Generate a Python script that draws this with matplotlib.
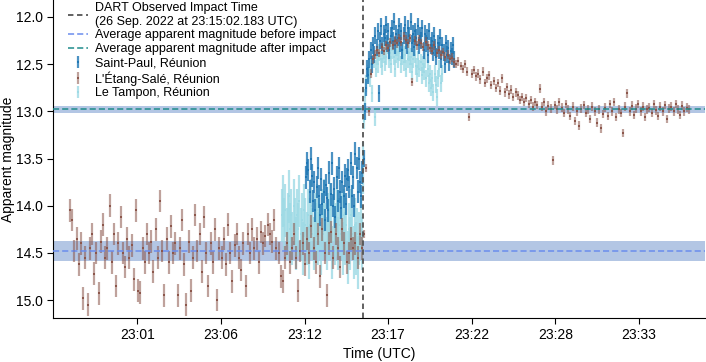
"""Apparent magnitude of Didymos around the DART impact, seen from Réunion."""

import matplotlib
matplotlib.use("Agg")
import matplotlib.pyplot as plt
from matplotlib.colors import to_rgba
import numpy as np

plt.rcParams['font.family'] = ['Liberation Sans', 'DejaVu Sans']

# Times are in minutes after 23:00 UTC (26 Sep. 2022)
IMPACT_MIN = 15.04

# L'Étang-Salé: regular cadence, first exposure at -3.65 min
etang_start = -3.65
etang_step = 0.14
etang_mag = [
    14.05, 14.15, 14.48, 14.35, 14.62, 14.4, 14.98, 14.55, 15.05, 14.45,
    14.3, 14.72, 14.5, 14.93, 14.38, 14.2, 14.55, 14.45, 14.0, 14.6,
    14.3, 14.85, 14.4, 14.12, 14.5, 14.65, 14.35, 14.55, 14.42, 14.78,
    14.05, 14.9, 14.92, 14.45, 14.6, 14.3, 14.5, 14.38, 14.7, 14.25,
    14.55, 13.95, 14.48, 14.95, 14.35, 14.6, 14.22, 14.5, 14.4, 14.95,
    14.45, 14.15, 14.62, 15.05, 14.38, 14.9, 14.55, 14.1, 14.48, 14.3,
    14.7, 14.12, 14.5, 14.85, 14.4, 14.6, 14.25, 15.0, 14.45, 14.55,
    14.35, 14.62, 14.2, 14.5, 14.8, 14.42, 14.3, 14.55, 14.68, 14.4,
    14.85, 14.3, 14.5, 14.25, 14.45, 14.35, 14.6, 14.28, 14.4, 14.32,
    14.2, 14.3, 14.38, 14.15, 14.45, 14.5, 14.75, 14.8, 14.55, 14.4,
    14.6, 14.45, 14.3, 14.55, 14.9, 14.48, 14.4, 14.62, 14.35, 14.5,
    14.22, 14.45, 14.6, 14.3, 14.75, 14.25, 14.5, 14.95, 14.4, 14.28,
    14.55, 14.3, 14.45, 14.65, 14.25, 14.4, 14.6, 14.5, 14.35, 14.45,
    14.4, 14.55, 14.3, 14.45,
    # after impact
    14.3, 13.6, 13.0, 12.6, 12.45, 12.4, 12.35, 12.38, 12.32, 12.36,
    12.3, 12.33, 12.27, 12.3, 12.25, 12.28, 12.22, 12.26, 12.2, 12.24,
    12.28, 12.22, 12.69, 12.25, 12.3, 12.24, 12.28, 12.32, 12.26, 12.3,
    12.33, 12.36, 12.3, 12.38, 12.35, 12.4, 12.37, 12.42, 12.4, 12.45,
    12.43, 12.48, 12.5, 12.47, 12.52, 12.55, 12.5, 12.58, 13.06, 12.6,
    12.56, 12.63, 12.6, 12.66, 12.58, 12.7, 12.65, 12.62, 12.72, 12.68,
    12.75, 12.7, 12.78, 12.65, 12.8, 12.74, 12.82, 12.77, 12.85, 12.8,
    12.83, 12.88, 12.85, 12.9, 12.86, 12.92, 12.88, 12.95, 12.9, 12.93,
    12.76, 12.95, 12.9, 13.0, 12.94, 12.97, 13.52, 12.93, 12.98, 12.9,
    12.96, 13.02, 12.92, 12.98, 13.05, 12.95, 13.1, 13.0, 13.15, 12.97,
    12.93, 13.02, 12.98, 13.08, 12.95, 13.0, 13.12, 12.98, 13.18, 13.03,
    12.96, 13.05, 12.92, 13.0, 12.9, 13.06, 12.98, 13.02, 13.23, 12.95,
    12.81, 13.0, 12.94, 13.04, 12.97, 12.92, 13.0, 12.95, 13.06, 12.98,
    12.96, 13.02, 12.92, 12.99, 13.05, 12.95, 13.0, 12.93, 13.08, 12.97,
    12.95, 13.0, 12.92, 12.98, 13.04, 12.94, 13.0, 12.96, 12.98,
]
etang_err = [0.12, 0.045]  # before / after impact

# Saint-Paul
stpaul_start = 11.4
stpaul_step = 0.075
stpaul_mag = [
    13.7, 13.55, 13.62, 13.85, 13.5, 13.68, 13.95, 13.75, 14.05, 13.8,
    13.6, 13.9, 14.1, 13.72, 13.98, 13.85, 14.15, 13.78, 13.92, 14.05,
    13.65, 13.88, 13.55, 14.0, 13.82, 14.12, 13.7, 13.95, 13.6, 13.85,
    14.02, 13.75, 13.9, 13.68, 13.98, 13.72, 13.62, 13.8, 13.55, 13.9,
    13.7, 14.0, 13.45, 13.6, 13.85, 13.5, 13.75, 13.9, 13.65,
    # after impact
    13.5, 13.0, 12.75, 12.55, 12.62, 12.45, 12.35, 12.5, 12.3, 12.4,
    12.2, 12.32, 12.15, 12.81, 12.25, 12.1, 12.3, 12.18, 12.22, 12.08,
    12.28, 12.15, 12.35, 12.2, 12.12, 12.25, 12.05, 12.3, 12.18, 12.22,
    12.1, 12.28, 12.15, 12.35, 12.2, 12.08, 12.25, 12.3, 12.12, 12.2,
    12.05, 12.28, 12.18, 12.32, 12.15, 12.22, 12.1, 12.3, 12.2, 12.25,
    12.12, 12.35, 12.18, 12.28, 12.22, 12.4, 12.15, 12.3, 12.25, 12.38,
    12.2, 12.32, 12.42, 12.28, 12.35, 12.22, 12.45, 12.3, 12.38, 12.5,
    12.28, 12.4, 12.33, 12.48, 12.36, 12.42, 12.3, 12.45,
]
stpaul_err = [0.12, 0.09]

# Le Tampon
tampon_start = 9.86
tampon_step = 0.075
tampon_mag = [
    14.1, 13.95, 14.2, 14.05, 14.3, 14.15, 13.9, 14.25, 14.1, 14.35,
    14.0, 14.2, 14.4, 14.1, 14.25, 13.95, 14.3, 14.15, 14.45, 14.05,
    14.2, 14.35, 14.1, 14.5, 14.2, 14.0, 14.3, 14.4, 14.15, 14.25,
    14.05, 14.35, 14.2, 14.45, 14.1, 14.3, 14.0, 14.25, 14.4, 14.15,
    14.3, 14.05, 14.2, 14.5, 14.1, 14.35, 14.25, 14.0, 14.4, 14.2,
    14.3, 14.15, 14.45, 14.1, 14.35, 14.2, 14.55, 14.25, 14.4, 14.1,
    14.3, 14.5, 14.2, 14.45, 14.3, 14.6, 14.35, 14.2, 14.4,
    # after impact
    13.6, 13.1, 12.85, 12.7, 12.6, 12.55, 12.65, 12.5, 12.81, 12.45,
    13.06, 12.55, 12.42, 12.5, 12.38, 12.45, 12.52, 12.4, 12.35, 12.48,
    12.42, 12.3, 12.45, 12.38, 12.5, 12.35, 12.42, 12.55, 12.4, 12.32,
    12.45, 12.38, 12.5, 12.42, 12.35, 12.48, 12.4, 12.55, 12.45, 12.38,
    12.5, 12.42, 12.58, 12.45, 12.4, 12.52, 12.6, 12.45, 12.55, 12.48,
    12.62, 12.5, 12.58, 12.45, 12.65, 12.55, 12.7, 12.6, 12.75, 12.65,
    12.8, 12.6, 12.72, 12.85, 12.65, 12.55, 12.7, 12.6,
]
tampon_err = [0.28, 0.09]

# Average magnitudes and their spread
mean_before, spread_before = 14.48, 0.11
mean_after, spread_after = 12.98, 0.04

xtick_pos = [0.64, 5.97, 11.31, 16.64, 21.97, 27.31, 32.64]
xtick_labels = ['23:01', '23:06', '23:12', '23:17', '23:22', '23:28', '23:33']


def _series(start, step, mags, errs):
    """Turn a regular-cadence series into time, magnitude and error arrays."""
    mag = np.array(mags)
    t = start + step * np.arange(len(mag))
    err = np.where(t < IMPACT_MIN, errs[0], errs[1])
    return t, mag, err


def _draw(ax, series, color, label, bar_alpha, z):
    t, mag, err = series
    return ax.errorbar(t, mag, yerr=err, fmt='s', ms=1.8, mew=0,
                       color=color, ecolor=to_rgba(color, bar_alpha),
                       elinewidth=1.6, capsize=0, label=label, zorder=z)


fig = plt.figure(figsize=(7.06, 3.62), dpi=100)
ax = fig.add_axes([0.0751, 0.1215, 0.9235, 0.8785])

ax.axhspan(mean_before - spread_before, mean_before + spread_before,
           color='#b3c6e4', lw=0, zorder=1)
ax.axhspan(mean_after - spread_after, mean_after + spread_after,
           color='#b3c6e4', lw=0, zorder=1)

h_tampon = _draw(ax, _series(tampon_start, tampon_step, tampon_mag, tampon_err),
                 '#9edae5', 'Le Tampon, Réunion', 0.8, 2)
h_stpaul = _draw(ax, _series(stpaul_start, stpaul_step, stpaul_mag, stpaul_err),
                 '#1f77b4', 'Saint-Paul, Réunion', 0.8, 3)
h_etang = _draw(ax, _series(etang_start, etang_step, etang_mag, etang_err),
                '#8c564b', "L'Étang-Salé, Réunion", 0.55, 4)

h_impact = ax.axvline(IMPACT_MIN, color='#555555', ls=(0, (3, 2)), lw=1.3, zorder=5,
                      label='DART Observed Impact Time\n(26 Sep. 2022 at 23:15:02.183 UTC)')
h_before = ax.axhline(mean_before, color='#6b8ded', ls=(0, (4, 2)), lw=1.1, zorder=5,
                      label='Average apparent magnitude before impact')
h_after = ax.axhline(mean_after, color='#1f8c8c', ls=(0, (4, 2)), lw=1.1, zorder=5,
                     label='Average apparent magnitude after impact')

ax.set_xlim(-4.74, 36.86)
ax.set_ylim(15.19, 11.82)
ax.set_xticks(xtick_pos)
ax.set_xticklabels(xtick_labels)
ax.set_yticks([12.0, 12.5, 13.0, 13.5, 14.0, 14.5, 15.0])
ax.tick_params(labelsize=10, length=4, width=0.8)
ax.set_xlabel('Time (UTC)', fontsize=10, labelpad=3)
ax.set_ylabel('Apparent magnitude', fontsize=10)
ax.yaxis.set_label_coords(-0.058, 0.5)
for side in ('top', 'right'):
    ax.spines[side].set_visible(False)

ax.legend(handles=[h_impact, h_before, h_after, h_stpaul, h_etang, h_tampon],
          loc='upper left', bbox_to_anchor=(0.005, 1.03), frameon=False,
          fontsize=9, handlelength=1.6, handletextpad=0.6, labelspacing=0.15)

fig.savefig('out.png', dpi=100)
